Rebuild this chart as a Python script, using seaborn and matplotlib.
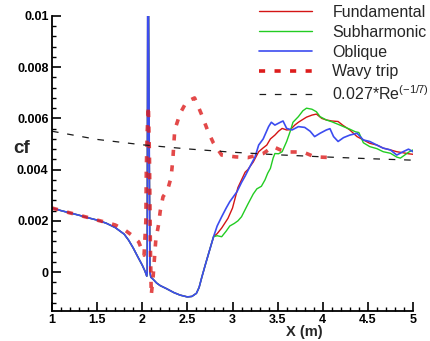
import numpy as np
import pandas as pd
import matplotlib
matplotlib.use("Agg")
import matplotlib.pyplot as plt
import seaborn as sns

# ---------------- data ----------------
# shared laminar part + trip spike + post-trip relaxation (all three DNS cases coincide)
x_common = [1.0, 1.1, 1.2, 1.3, 1.4, 1.5, 1.6, 1.7, 1.8, 1.85, 1.9, 1.95, 2.0, 2.03, 2.05,
            2.055, 2.06, 2.07, 2.085, 2.095, 2.12, 2.16, 2.2, 2.27, 2.35, 2.42, 2.5, 2.55,
            2.6, 2.63, 2.66, 2.7, 2.75, 2.79]
cf_common = [0.0025, 0.0024, 0.00231, 0.00222, 0.00212, 0.00203, 0.00191, 0.00174, 0.00148,
             0.00124, 0.00094, 0.0006, 0.00027, 0.00004, -0.00016,
             0.0, 0.01, 0.01, 0.0, -0.0002, -0.00028, -0.00043, -0.00053, -0.00065, -0.0008,
             -0.0009, -0.00097, -0.00095, -0.00083, -0.0006, -0.0002, 0.0003, 0.0009, 0.00138]

x_fund = [2.83, 2.88, 2.95, 3.0, 3.06, 3.1, 3.14, 3.17, 3.23, 3.29, 3.34, 3.38, 3.42, 3.47,
          3.51, 3.55, 3.6, 3.64, 3.69, 3.73, 3.77, 3.82, 3.88, 3.93, 3.99, 4.04, 4.1, 4.17,
          4.22, 4.3, 4.38, 4.45, 4.52, 4.6, 4.67, 4.75, 4.82, 4.89, 4.95, 5.0]
cf_fund = [0.0015, 0.00172, 0.0021, 0.0025, 0.0033, 0.0036, 0.0039, 0.004, 0.0043, 0.0047,
           0.00485, 0.00496, 0.0052, 0.00535, 0.0055, 0.00561, 0.00555, 0.00556, 0.00574,
           0.00585, 0.00594, 0.00605, 0.00613, 0.00617, 0.006, 0.00594, 0.0059, 0.00588,
           0.00574, 0.00555, 0.00529, 0.00516, 0.00503, 0.00496, 0.00484, 0.00477, 0.0047,
           0.00466, 0.00462, 0.0046]

x_sub = [2.83, 2.88, 2.93, 2.97, 3.02, 3.06, 3.1, 3.17, 3.23, 3.27, 3.32, 3.36, 3.39, 3.42,
         3.45, 3.47, 3.51, 3.55, 3.6, 3.62, 3.64, 3.67, 3.73, 3.78, 3.82, 3.88, 3.93, 3.97,
         4.04, 4.1, 4.17, 4.23, 4.3, 4.36, 4.4, 4.45, 4.52, 4.6, 4.67, 4.75, 4.82, 4.86, 4.9,
         4.95, 5.0]
cf_sub = [0.00142, 0.00138, 0.0016, 0.0018, 0.0019, 0.002, 0.00216, 0.00265, 0.00305, 0.00325,
          0.00335, 0.0036, 0.00386, 0.00405, 0.00445, 0.00463, 0.00462, 0.0047, 0.0051, 0.0053,
          0.0055, 0.00585, 0.00607, 0.0063, 0.0064, 0.00636, 0.00626, 0.00607, 0.00594,
          0.00587, 0.00577, 0.00568, 0.00558, 0.00548, 0.00545, 0.00505, 0.0049, 0.00482,
          0.0047, 0.00464, 0.00449, 0.00445, 0.00455, 0.00468, 0.00477]

x_obl = [2.83, 2.88, 2.93, 2.97, 3.05, 3.1, 3.14, 3.19, 3.25, 3.29, 3.34, 3.4, 3.43, 3.47,
         3.53, 3.56, 3.6, 3.66, 3.73, 3.8, 3.86, 3.91, 3.97, 4.04, 4.08, 4.12, 4.17, 4.23,
         4.3, 4.38, 4.45, 4.52, 4.6, 4.67, 4.75, 4.82, 4.89, 4.95, 5.0]
cf_obl = [0.0018, 0.00216, 0.0025, 0.00275, 0.00314, 0.0035, 0.00375, 0.0041, 0.0045, 0.00496,
          0.0052, 0.00568, 0.00585, 0.00574, 0.00585, 0.0059, 0.00561, 0.00555, 0.00568,
          0.00565, 0.0055, 0.00529, 0.00542, 0.00555, 0.0056, 0.00529, 0.0051, 0.00525,
          0.00535, 0.00542, 0.00516, 0.0051, 0.00496, 0.00484, 0.00477, 0.00457, 0.0047,
          0.0048, 0.0047]

x_wavy = [1.0, 1.2, 1.4, 1.5, 1.6, 1.7, 1.8, 1.9, 1.96, 2.02, 2.04, 2.045, 2.055, 2.068,
          2.08, 2.09, 2.1, 2.12, 2.15, 2.18, 2.2, 2.23, 2.28, 2.32, 2.34, 2.36, 2.42, 2.49,
          2.58, 2.66, 2.73, 2.79, 2.88, 3.03, 3.17, 3.34, 3.45, 3.53, 3.62, 3.78, 3.91, 4.1]
cf_wavy = [0.0025, 0.00231, 0.00213, 0.00203, 0.00194, 0.00184, 0.00166, 0.0014, 0.00118,
           0.00066, 0.002, 0.004, 0.0055, 0.0065, 0.0045, 0.001, -0.0009, -0.0002, 0.00125,
           0.00184, 0.0024, 0.00294, 0.0032, 0.0037, 0.00445, 0.00555, 0.0062, 0.00665,
           0.0068, 0.00613, 0.00548, 0.00503, 0.00457, 0.0045, 0.00447, 0.00463, 0.0049,
           0.00477, 0.00469, 0.00469, 0.0045, 0.00447]

x_turb = [1.0, 1.5, 2.0, 2.5, 3.0, 3.5, 4.0, 4.5, 5.0]
cf_turb = [0.0055, 0.00518, 0.00497, 0.00481, 0.00468, 0.00458, 0.0045, 0.00443, 0.00437]

labels = ["Fundamental", "Subharmonic", "Oblique", "Wavy trip", "0.027*Re$^{(-1/7)}$"]
xticks = [1, 1.5, 2, 2.5, 3, 3.5, 4, 4.5, 5]
xtick_labels = ["1", "1.5", "2", "2.5", "3", "3.5", "4", "4.5", "5"]
yticks = [0, 0.002, 0.004, 0.006, 0.008, 0.01]
ytick_labels = ["0", "0.002", "0.004", "0.006", "0.008", "0.01"]

# ---------------- styling ----------------
sns.set_style("ticks")
plt.rcParams["font.family"] = ["Liberation Sans", "DejaVu Sans"]
plt.rcParams["mathtext.default"] = "regular"

fig = plt.figure(figsize=(4.3, 3.41), dpi=100)
ax = fig.add_axes([52 / 430, 1 - 311 / 341, 361 / 430, 295 / 341])

kw = dict(ax=ax, estimator=None, sort=False)
sns.lineplot(x=x_common + x_fund, y=cf_common + cf_fund, color="#d41414", lw=1.0,
             label=labels[0], **kw)
sns.lineplot(x=x_common + x_sub, y=cf_common + cf_sub, color="#22cc22", lw=1.0,
             label=labels[1], **kw)
sns.lineplot(x=x_common + x_obl, y=cf_common + cf_obl, color="#3c4cf0", lw=1.2,
             label=labels[2], **kw)
sns.lineplot(x=x_wavy, y=cf_wavy, color="#dd1c1c", lw=2.6, alpha=0.8,
             label=labels[3], **kw)
sns.lineplot(x=x_turb, y=cf_turb, color="#1a1a1a", lw=0.9, label=labels[4], **kw)

lines = ax.get_lines()
lines[3].set_dashes([1.7, 2.6])
lines[3].set_solid_capstyle("butt")
lines[3].set_dash_capstyle("butt")
lines[4].set_dashes([5.3, 7.0])

ax.set_xlim(1, 5)
ax.set_ylim(-0.00152, 0.01)
sns.despine(ax=ax)
for s in ["left", "bottom"]:
    ax.spines[s].set_linewidth(1.3)
    ax.spines[s].set_color("black")

ax.set_xticks(xticks)
ax.set_xticklabels(xtick_labels)
ax.set_yticks(yticks)
ax.set_yticklabels(ytick_labels)
ax.xaxis.set_minor_locator(matplotlib.ticker.MultipleLocator(0.1))
ax.yaxis.set_minor_locator(matplotlib.ticker.MultipleLocator(0.0004))
ax.tick_params(which="major", direction="in", length=6.5, width=1.2, pad=2.5,
               colors="black", labelsize=9)
ax.tick_params(which="minor", direction="in", length=3.2, width=1.0, colors="black")
for t in ax.get_xticklabels() + ax.get_yticklabels():
    t.set_fontweight("bold")

ax.set_xlabel("X (m)", fontsize=10.5, fontweight="bold")
ax.xaxis.set_label_coords((304 - 52) / 361, -(332 - 311) / 295, transform=ax.transAxes)
ax.xaxis.label.set_va("center")
ax.set_ylabel("cf", fontsize=13.5, fontweight="bold", rotation=0)
ax.yaxis.set_label_coords((22 - 52) / 361, (311 - 148) / 295, transform=ax.transAxes)
ax.yaxis.label.set_va("center")
ax.yaxis.label.set_ha("center")

leg = ax.legend(loc="upper left", bbox_to_anchor=(259 / 430, 1 - 5 / 341),
                bbox_transform=fig.transFigure, frameon=False, fontsize=11.5,
                handlelength=3.3, handletextpad=1.3, labelspacing=0.3,
                borderpad=0, borderaxespad=0)
for h in leg.get_lines():
    h.set_alpha(1.0)

fig.savefig("out.png", dpi=100)
